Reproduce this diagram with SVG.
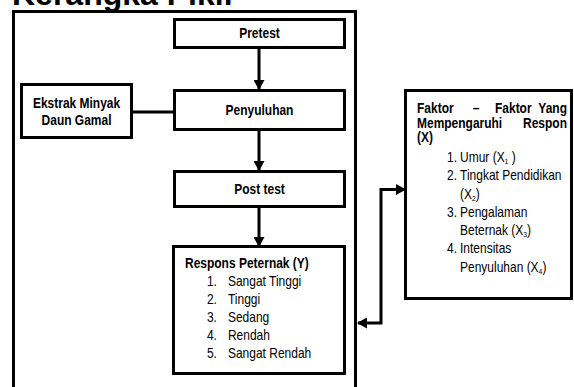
<svg xmlns="http://www.w3.org/2000/svg" width="574" height="387" viewBox="0 0 574 387">
<defs>
<style>
.box{fill:#fff;stroke:#000;stroke-width:3}
.ln{fill:none;stroke:#000;stroke-width:3}
.b{font-family:"Liberation Sans",Arial,sans-serif;font-weight:bold;font-size:14px;fill:#000}
.r{font-family:"Liberation Sans",Arial,sans-serif;font-size:14px;fill:#000}
.c{text-anchor:middle}
.e{text-anchor:end}
.s{font-size:8px}
</style>
<marker id="ah" viewBox="0 0 10 11" markerUnits="userSpaceOnUse" markerWidth="10" markerHeight="11" refX="9" refY="5.5" orient="auto-start-reverse">
<path d="M0,0 L10,5.5 L0,11 z" fill="#000"/>
</marker>
</defs>
<rect width="574" height="387" fill="#fff"/>
<text x="12" y="5" font-family="'Liberation Sans',Arial,sans-serif" font-weight="bold" font-size="32">Kerangka Pikir</text>
<rect id="frame" x="13.5" y="11.5" width="342" height="400" class="ln"/>
<g id="connectors">
<line x1="259" y1="48" x2="259" y2="89" class="ln" marker-end="url(#ah)"/>
<line x1="132" y1="112" x2="175" y2="112" class="ln"/>
<line x1="259" y1="130" x2="259" y2="170" class="ln" marker-end="url(#ah)"/>
<line x1="259" y1="207" x2="259" y2="246" class="ln" marker-end="url(#ah)"/>
<path d="M358,323 H381 V189.5 H405" class="ln" marker-start="url(#ah)" marker-end="url(#ah)"/>
</g>
<g id="pretest">
<rect x="174.5" y="19.5" width="170" height="28" class="box"/>
<text transform="scale(0.857 1)" x="302.8" y="38.5" class="b c">Pretest</text>
</g>
<g id="penyuluhan">
<rect x="174.5" y="90.5" width="170" height="39" class="box"/>
<text transform="scale(0.857 1)" x="302.8" y="115" class="b c">Penyuluhan</text>
</g>
<g id="ekstrak">
<rect x="21.5" y="84.5" width="110" height="53" class="box"/>
<g transform="scale(0.857 1)">
<text x="89.3" y="108" class="b c">Ekstrak Minyak</text>
<text x="89.3" y="125.5" class="b c">Daun Gamal</text>
</g>
</g>
<g id="posttest">
<rect x="174.5" y="171.5" width="170" height="35" class="box"/>
<text transform="scale(0.857 1)" x="302.8" y="194" class="b c">Post test</text>
</g>
<g id="respons">
<rect x="173.5" y="246.5" width="171" height="127" class="box"/>
<g transform="scale(0.857 1)">
<text x="215.9" y="268" class="b">Respons Peternak (Y)</text>
<text x="241.5" y="286" class="r">1.</text><text x="266" y="286" class="r">Sangat Tinggi</text>
<text x="241.5" y="304" class="r">2.</text><text x="266" y="304" class="r">Tinggi</text>
<text x="241.5" y="322" class="r">3.</text><text x="266" y="322" class="r">Sedang</text>
<text x="241.5" y="340" class="r">4.</text><text x="266" y="340" class="r">Rendah</text>
<text x="241.5" y="358" class="r">5.</text><text x="266" y="358" class="r">Sangat Rendah</text>
</g>
</g>
<g id="faktor">
<rect x="405.5" y="90.5" width="166" height="208" class="box"/>
<g transform="scale(0.857 1)">
<text x="486.6" y="113.5" class="b">Faktor</text>
<text x="555.4" y="113.5" class="b c">–</text>
<text x="577.6" y="113.5" class="b">Faktor</text>
<text x="661.6" y="113.5" class="b e">Yang</text>
<text x="486.6" y="128" class="b">Mempengaruhi</text>
<text x="661.6" y="128" class="b e">Respon</text>
<text x="486.6" y="142.5" class="b">(X)</text>
<text x="521.6" y="162" class="r">1.</text><text x="536.8" y="162" class="r">Umur (X<tspan class="s" dy="2">1</tspan><tspan dy="-2"> )</tspan></text>
<text x="521.6" y="180.3" class="r">2.</text><text x="536.8" y="180.3" class="r">Tingkat Pendidikan</text>
<text x="536.8" y="198.6" class="r">(X<tspan class="s" dy="2">2</tspan><tspan dy="-2">)</tspan></text>
<text x="521.6" y="216.9" class="r">3.</text><text x="536.8" y="216.9" class="r">Pengalaman</text>
<text x="536.8" y="235.2" class="r">Beternak (X<tspan class="s" dy="2">3</tspan><tspan dy="-2">)</tspan></text>
<text x="521.6" y="253.5" class="r">4.</text><text x="536.8" y="253.5" class="r">Intensitas</text>
<text x="536.8" y="271.8" class="r">Penyuluhan (X<tspan class="s" dy="2">4</tspan><tspan dy="-2">)</tspan></text>
</g>
</g>
</svg>
